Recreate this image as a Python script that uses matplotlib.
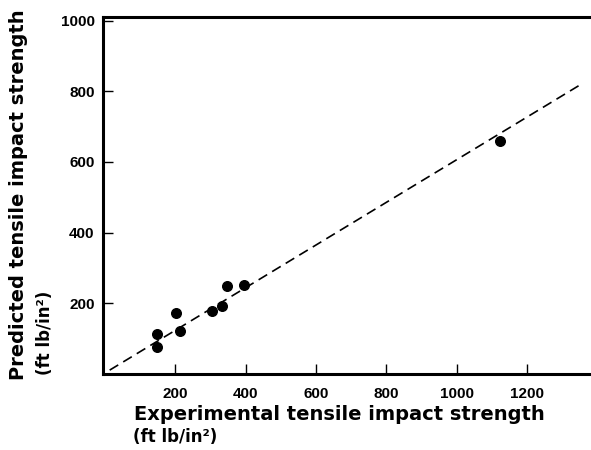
import matplotlib.pyplot as plt
import numpy as np

plt.rcParams["font.family"] = ["Liberation Sans", "DejaVu Sans"]
plt.rcParams["font.weight"] = "bold"

# experimental vs predicted tensile impact strength (ft lb/in^2)
experimental = [148, 148, 201, 212, 305, 333, 346, 395, 1124]
predicted = [113, 77, 172, 122, 179, 192, 249, 253, 658]

# dashed reference line
line_x = [13, 1351]
line_y = [11, 818]

x_ticks = [200, 400, 600, 800, 1000, 1200]
y_ticks = [200, 400, 600, 800, 1000]

fig = plt.figure(figsize=(5.91, 4.5), dpi=100)
ax = fig.add_axes([103 / 591, 76 / 450, 1 - 103 / 591, (374 - 17) / 450])

ax.plot(line_x, line_y, color="black", lw=1.2, dashes=(6, 3.5))
ax.scatter(experimental, predicted, s=48, color="black", zorder=3)

ax.set_xlim(-6, 1382)
ax.set_ylim(0, 1010)
ax.set_xticks(x_ticks)
ax.set_yticks(y_ticks)
ax.tick_params(axis="both", direction="in", length=7, width=1, labelsize=11)
ax.tick_params(axis="x", pad=9)
ax.tick_params(axis="y", pad=6)
for side in ["left", "bottom", "top"]:
    ax.spines[side].set_linewidth(2.2)
ax.spines["right"].set_visible(False)

lab = dict(family=["DejaVu Sans"], fontweight="bold")
fig.text(134 / 591, 1 - 420 / 450, "Experimental tensile impact strength",
         fontsize=14, ha="left", va="baseline", **lab)
fig.text(133 / 591, 1 - 442 / 450, "(ft lb/in²)",
         fontsize=12, ha="left", va="baseline", **lab)
fig.text(9 / 591, 70 / 450, "Predicted tensile impact strength",
         fontsize=14, rotation=90, ha="left", va="bottom", **lab)
fig.text(36 / 591, 75 / 450, "(ft lb/in²)",
         fontsize=12, rotation=90, ha="left", va="bottom", **lab)

fig.savefig("out.png", dpi=100)
